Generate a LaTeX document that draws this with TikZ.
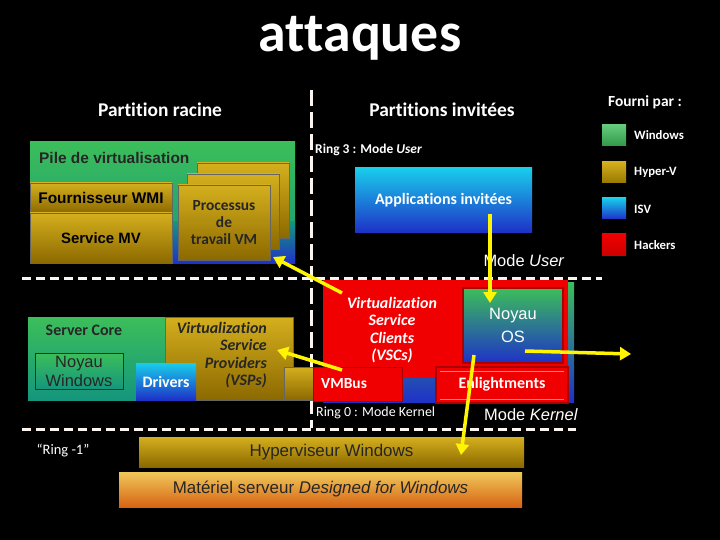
\documentclass[tikz,border=0pt]{standalone}
\usepackage{fontspec}
\setmainfont{Carlito}[Ligatures={NoCommon}]
\newfontfamily\arialf{Liberation Sans}
\usetikzlibrary{arrows.meta}
\definecolor{gTop}{RGB}{60,190,90}
\definecolor{gBot}{RGB}{20,150,125}
\definecolor{goldT}{RGB}{212,175,30}
\definecolor{goldB}{RGB}{140,105,0}
\definecolor{bTop}{RGB}{25,205,235}
\definecolor{bBot}{RGB}{30,50,200}
\definecolor{hred}{RGB}{240,0,0}
\definecolor{dred}{RGB}{170,0,0}
\definecolor{oTop}{RGB}{240,200,90}
\definecolor{oBot}{RGB}{215,100,20}
\definecolor{arrowy}{RGB}{255,245,0}
\tikzset{
  box/.style={anchor=north west, inner sep=0pt, outer sep=0pt, align=center},
  greenbox/.style={box, top color=gTop, bottom color=gBot},
  goldbox/.style={box, top color=goldT, bottom color=goldB, draw=black!60, line width=0.4bp},
  bluebox/.style={box, top color=bTop, bottom color=bBot},
  redbox/.style={box, fill=hred},
  wtxt/.style={text=white, font=\bfseries\fontsize{12}{14}\selectfont, inner sep=0pt},
  btxt/.style={text=black!85, inner sep=0pt},
  atk/.style={draw=arrowy, line width=3.5bp, -{Triangle[length=11bp,width=13bp]}},
  sepv/.style={draw=white!92!brown, line width=3bp, dash pattern=on 16bp off 6bp},
  seph/.style={draw=white!92!brown, line width=3bp, dash pattern=on 9bp off 5bp},
  leg/.style={box, minimum width=24bp, minimum height=21bp}
}
\begin{document}
\begin{tikzpicture}[x=1bp,y=-1bp]
\fill[black] (0,0) rectangle (720,540);
\useasboundingbox (0,0) rectangle (720,540);

% title and headings
\node[text=white, font=\bfseries\fontsize{56}{56}\selectfont, inner sep=0pt] (title) at (360,38) {attaques};
\node[wtxt, font=\bfseries\fontsize{19.5}{22}\selectfont] (hroot) at (160,110) {Partition racine};
\node[wtxt, font=\bfseries\fontsize{19.5}{22}\selectfont] (hguest) at (442,110) {Partitions invitées};

% separators
\coordinate (vtop) at (311,90);
\coordinate (vbot) at (311,428);
\coordinate (h1l) at (22,278);
\coordinate (h1r) at (602,278);
\coordinate (h2l) at (22,429);
\coordinate (h2r) at (576,429);
\draw[sepv] (vtop) -- (vbot);
\draw[seph] (h1l) -- (h1r);
\draw[seph] (h2l) -- (h2r);

% root partition - virtualization stack
\node[greenbox, minimum width=265bp, minimum height=121bp] (pile) at (30,142) {};
\fill[bottom color=bBot, top color=gBot] (172,222) rectangle (295,263);
\node[btxt, anchor=west, font=\arialf\bfseries\fontsize{15.5}{17}\selectfont] (piletxt) at (39,158) {Pile de virtualisation};
\node[goldbox, minimum width=142bp, minimum height=30bp, font=\arialf\bfseries\fontsize{15.5}{17}\selectfont] (wmi) at (30,183) {Fournisseur WMI};
\node[goldbox, minimum width=142bp, minimum height=50bp, font=\arialf\bfseries\fontsize{15}{17}\selectfont] (mv) at (30,213) {Service MV};
\node[goldbox, minimum width=92bp, minimum height=75bp] (proc3) at (197,163) {};
\node[goldbox, minimum width=92bp, minimum height=75bp] (proc2) at (187,174) {};
\node[goldbox, minimum width=92bp, minimum height=75bp, font=\bfseries\fontsize{15.5}{17}\selectfont, text=black!85] (proc) at (178,185) {Processus\\de\\travail VM};

% root partition - kernel
\node[greenbox, minimum width=137bp, minimum height=83bp] (core) at (28,317) {};
\node[btxt, font=\bfseries\fontsize{16}{18}\selectfont] (coretxt) at (84,330) {Server Core};
\node[greenbox, draw=black!70!green, line width=0.8bp, minimum width=88bp, minimum height=36bp, font=\arialf\fontsize{16.5}{19}\selectfont, text=black!85] (nwin) at (35,353) {Noyau\\Windows};
\node[goldbox, minimum width=128bp, minimum height=83bp] (vsp) at (165,317) {};
\node[btxt, anchor=north east, align=right, font=\bfseries\itshape\fontsize{16}{17.5}\selectfont] (vsptxt) at (267,322) {Virtualization\\Service\\Providers\\(VSPs)};
\node[bluebox, minimum width=60bp, minimum height=37bp, font=\bfseries\fontsize{16}{18}\selectfont, text=white] (drv) at (136,363) {Drivers};
\node[goldbox, minimum width=29bp, minimum height=33bp] (vmbg) at (284,367) {};

% guest partition
\node[bluebox, minimum width=177bp, minimum height=64bp, font=\bfseries\fontsize{16}{18}\selectfont, text=white] (apps) at (355,168) {Applications invitées};
\node[wtxt, anchor=west, font=\bfseries\fontsize{13.5}{15}\selectfont] (ring3) at (315,150) {Ring 3 : Mode \textit{User}};
\node[wtxt, font=\arialf\fontsize{16.5}{18}\selectfont] (muser) at (524,261) {Mode \textit{User}};

\node[box, top color=gTop, bottom color=bBot, minimum width=251bp, minimum height=120bp] (gk) at (323,282) {};
\node[redbox, minimum width=245bp, minimum height=98bp] (vsc) at (323,280) {};
\node[text=white, inner sep=0pt, align=center, font=\bfseries\itshape\fontsize{16}{17.5}\selectfont] (vsctxt) at (392,330) {Virtualization\\Service\\Clients\\(VSCs)};
\node[box, top color=gTop, bottom color=bBot, draw=dred, line width=1.5bp, minimum width=100bp, minimum height=75bp, font=\arialf\fontsize{16.5}{23}\selectfont, text=white] (nos) at (463,288) {Noyau\\OS};
\node[redbox, draw=dred, line width=0.8bp, minimum width=89bp, minimum height=34bp] (vmbus) at (313,367) {};
\node[wtxt, anchor=west, font=\bfseries\fontsize{15.5}{17}\selectfont] (vmbustxt) at (321,384) {VMBus};
\node[redbox, draw=dred, line width=2bp, minimum width=132bp, minimum height=36bp] (enl) at (436,367) {};
\draw[orange!80!yellow, line width=1bp] ([shift={(4,4)}]enl.north west) -- ([shift={(-4,4)}]enl.north east);
\draw[orange!80!yellow, line width=1bp] ([shift={(4,-4)}]enl.south west) -- ([shift={(-4,-4)}]enl.south east);
\node[wtxt, font=\bfseries\fontsize{16}{18}\selectfont] (enltxt) at (502,384) {Enlightments};
\node[wtxt, anchor=west, font=\fontsize{14}{16}\selectfont] (ring0) at (316,413) {Ring 0 : Mode Kernel};
\node[wtxt, font=\arialf\fontsize{16.5}{18}\selectfont] (mkernel) at (531,415) {Mode \textit{Kernel}};

% ring -1
\node[wtxt, font=\fontsize{14.5}{16}\selectfont] (ringm1) at (63,451) {“Ring -1”};
\node[goldbox, draw=none, minimum width=385bp, minimum height=30bp, font=\arialf\fontsize{17}{19}\selectfont, text=black!85] (hyp) at (139,437) {Hyperviseur Windows};
\node[box, top color=oTop, bottom color=oBot, minimum width=403bp, minimum height=35bp, font=\arialf\fontsize{17}{19}\selectfont, text=black!85] (hw) at (119,472) {Matériel serveur \textit{Designed for Windows}};

% legend
\node[wtxt, font=\bfseries\fontsize{15.5}{17}\selectfont] (legt) at (645,102) {Fourni par :};
\node[leg, top color=gTop!80!white, bottom color=gTop!80!black] (lw) at (602,125) {};
\node[leg, top color=goldT, bottom color=goldB!90!yellow] (lh) at (602,162) {};
\node[leg, top color=bTop, bottom color=bBot] (li) at (602,198) {};
\node[leg, top color=hred, bottom color=hred!85!black] (lk) at (602,234) {};
\node[wtxt, anchor=west, font=\bfseries\fontsize{12.8}{14}\selectfont] (lwt) at (634,135) {Windows};
\node[wtxt, anchor=west, font=\bfseries\fontsize{12.8}{14}\selectfont] (lht) at (634,172) {Hyper-V};
\node[wtxt, anchor=west, font=\bfseries\fontsize{12.8}{14}\selectfont] (lit) at (634,209) {ISV};
\node[wtxt, anchor=west, font=\bfseries\fontsize{12.8}{14}\selectfont] (lkt) at (634,245) {Hackers};

% attack arrows
\coordinate (a1s) at (342,293);
\coordinate (a1e) at (273,257);
\coordinate (a2s) at (342,370);
\coordinate (a2e) at (277,350);
\coordinate (a3s) at (490,214);
\coordinate (a3e) at (490,303);
\coordinate (a4s) at (525,351);
\coordinate (a4e) at (631,354);
\coordinate (a5s) at (474,355);
\coordinate (a5e) at (461,455);
\draw[atk] (a1s) -- (a1e);
\draw[atk] (a2s) -- (a2e);
\draw[atk] (a3s) -- (a3e);
\draw[atk] (a4s) -- (a4e);
\draw[atk] (a5s) -- (a5e);
\end{tikzpicture}
\end{document}
